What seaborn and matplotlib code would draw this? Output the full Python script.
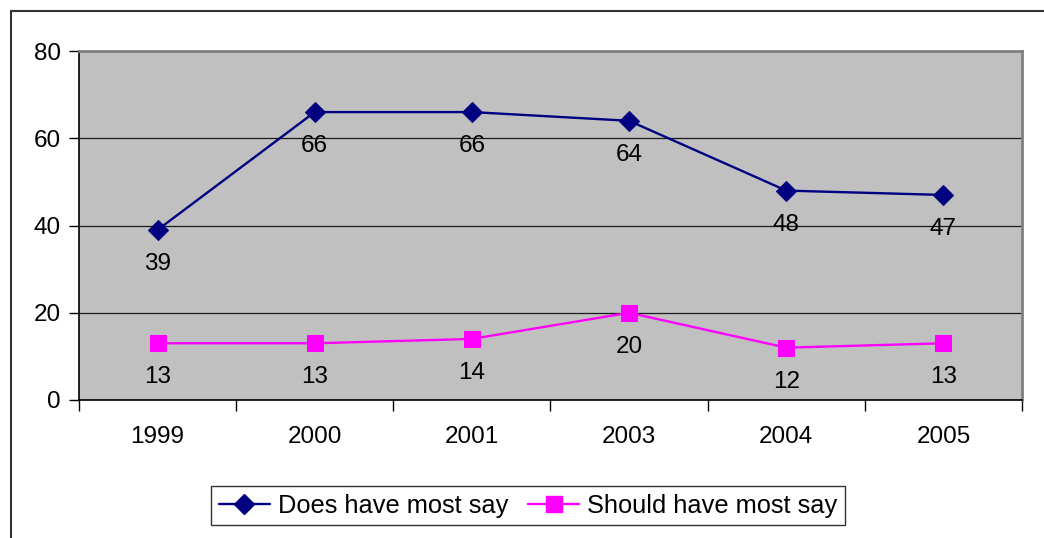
import matplotlib
matplotlib.use("Agg")
import matplotlib.pyplot as plt
import seaborn as sns
import pandas as pd
from matplotlib.lines import Line2D

# Survey results by year
years = ["1999", "2000", "2001", "2003", "2004", "2005"]
does_have = [39, 66, 66, 64, 48, 47]
should_have = [13, 13, 14, 20, 12, 13]
series_names = ["Does have most say", "Should have most say"]
series_colors = ["#000080", "#FF00FF"]
series_markers = ["D", "s"]
y_ticks = [0, 20, 40, 60, 80]

sns.set_theme(style="white")
plt.rcParams["font.family"] = ["Liberation Sans", "DejaVu Sans"]
plt.rcParams["text.color"] = "black"
plt.rcParams["xtick.color"] = "black"
plt.rcParams["ytick.color"] = "black"
plt.rcParams["axes.labelcolor"] = "black"

pos = list(range(len(years)))
df = pd.DataFrame({
    "pos": pos * 2,
    "value": does_have + should_have,
    "series": [series_names[0]] * len(years) + [series_names[1]] * len(years),
})

fig = plt.figure(figsize=(10.44, 5.38), dpi=100)
ax = fig.add_axes([79 / 1044, 1 - 400 / 538, (1022 - 79) / 1044, (400 - 51) / 538])
ax.set_facecolor("#C0C0C0")

fs = 17.5
marker_sizes = [10, 11]
for name, color, marker, msize in zip(series_names, series_colors, series_markers, marker_sizes):
    sub = df[df["series"] == name]
    sns.lineplot(data=sub, x="pos", y="value", ax=ax, color=color, marker=marker,
                 markersize=msize, markeredgecolor=color, linewidth=1.7,
                 legend=False, zorder=3)
    for x, v in zip(sub["pos"], sub["value"]):
        ax.annotate(str(v), (x, v), xytext=(0, -24.5), textcoords="offset points",
                    ha="center", va="center", fontsize=fs, color="black", zorder=4)

ax.set_xlim(-0.5, len(years) - 0.5)
ax.set_ylim(0, 80)
ax.set_yticks(y_ticks)
ax.set_yticklabels([str(t) for t in y_ticks], fontsize=fs)
ax.yaxis.grid(True, color="#1a1a1a", linewidth=0.9)
ax.set_axisbelow(True)

# category boundaries carry the tick marks, centres carry the labels
ax.set_xticks([p - 0.5 for p in pos] + [len(years) - 0.5])
ax.set_xticklabels([])
ax.set_xticks(pos, minor=True)
ax.set_xticklabels(years, minor=True, fontsize=fs)
ax.tick_params(axis="x", which="major", direction="out", length=8, width=1, color="black", bottom=True)
ax.tick_params(axis="x", which="minor", length=0, pad=19)
ax.tick_params(axis="y", direction="out", length=7, width=1, color="black", left=True, pad=6)
ax.set_xlabel("")
ax.set_ylabel("")

for side in ["left", "bottom"]:
    ax.spines[side].set_color("black")
    ax.spines[side].set_linewidth(1.2)
for side in ["top", "right"]:
    ax.spines[side].set_color("#808080")
    ax.spines[side].set_linewidth(2)

handles = [
    Line2D([0], [0], color=series_colors[0], marker="D", markersize=marker_sizes[0], linewidth=1.7),
    Line2D([0], [0], color=series_colors[1], marker="s", markersize=marker_sizes[1], linewidth=1.7),
]
leg = fig.legend(handles, series_names, loc="center", bbox_to_anchor=(528 / 1044, 1 - 505.5 / 538),
                 ncol=2, fontsize=18.3, frameon=True, fancybox=False, edgecolor="black",
                 handlelength=2.0, handletextpad=0.3, columnspacing=0.8,
                 borderpad=0.3, borderaxespad=0)
leg.get_frame().set_linewidth(1.0)

# outer chart frame
fig.add_artist(Line2D([10.5 / 1044, 1], [1 - 10.5 / 538, 1 - 10.5 / 538], color="#333333", linewidth=1.5,
                      transform=fig.transFigure))
fig.add_artist(Line2D([10.5 / 1044, 10.5 / 1044], [0, 1 - 10.5 / 538], color="#333333", linewidth=1.5,
                      transform=fig.transFigure))

fig.savefig("out.png", dpi=100, facecolor="white")
